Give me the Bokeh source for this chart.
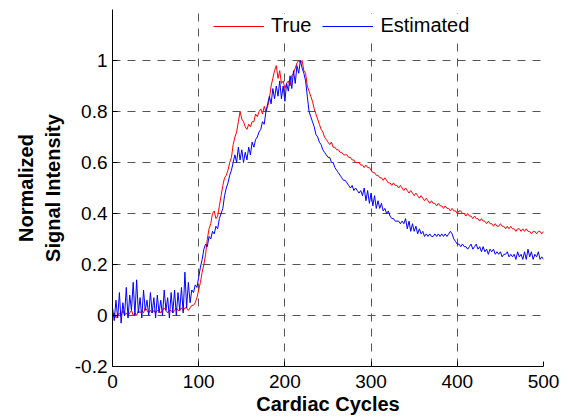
from bokeh.plotting import figure
from bokeh.models import Range1d, FixedTicker, Legend, LegendItem
from bokeh.embed import file_html
from bokeh.resources import INLINE

# Cardiac cycle index (every 2nd cycle)
cycles = list(range(0, 501, 2))

true_signal = [
    0.00, 0.01, -0.01, 0.00, 0.01, 0.00, 0.02, 0.00, 0.01, 0.00,
    0.01, 0.02, 0.00, 0.01, 0.00, 0.02, 0.01, 0.02, 0.01, 0.03,
    0.02, 0.01, 0.02, 0.01, 0.02, 0.01, 0.02, 0.02, 0.01, 0.02,
    0.03, 0.02, 0.01, 0.02, 0.02, 0.01, 0.02, 0.03, 0.02, 0.02,
    0.03, 0.02, 0.03, 0.03, 0.02, 0.03, 0.04, 0.04, 0.05, 0.07,
    0.10, 0.13, 0.17, 0.20, 0.24, 0.30, 0.34, 0.36, 0.40, 0.41,
    0.38, 0.39, 0.43, 0.47, 0.51, 0.54, 0.55, 0.57, 0.60, 0.62,
    0.67, 0.70, 0.72, 0.76, 0.80, 0.77, 0.76, 0.74, 0.73, 0.75,
    0.74, 0.76, 0.76, 0.79, 0.78, 0.80, 0.81, 0.79, 0.82, 0.80,
    0.82, 0.85, 0.90, 0.93, 0.96, 0.98, 0.93, 0.96, 0.91, 0.92,
    0.89, 0.91, 0.92, 0.90, 0.94, 0.95, 0.97, 0.99, 1.00, 0.99,
    1.00, 0.96, 0.95, 0.90, 0.88, 0.86, 0.84, 0.81, 0.79, 0.77,
    0.75, 0.73, 0.72, 0.70, 0.69, 0.68, 0.67, 0.68, 0.66, 0.66,
    0.65, 0.65, 0.64, 0.64, 0.63, 0.63, 0.63, 0.62, 0.62, 0.61,
    0.61, 0.60, 0.60, 0.60, 0.59, 0.59, 0.58, 0.59, 0.58, 0.58,
    0.57, 0.56, 0.56, 0.55, 0.55, 0.54, 0.54, 0.53, 0.54, 0.53,
    0.52, 0.52, 0.51, 0.52, 0.51, 0.51, 0.50, 0.51, 0.50, 0.49,
    0.50, 0.49, 0.48, 0.49, 0.48, 0.47, 0.48, 0.47, 0.46, 0.47,
    0.46, 0.45, 0.46, 0.45, 0.44, 0.45, 0.44, 0.44, 0.43, 0.44,
    0.43, 0.43, 0.42, 0.43, 0.42, 0.42, 0.41, 0.42, 0.41, 0.41,
    0.40, 0.41, 0.41, 0.40, 0.40, 0.39, 0.40, 0.39, 0.39, 0.38,
    0.39, 0.38, 0.38, 0.37, 0.38, 0.37, 0.37, 0.36, 0.37, 0.36,
    0.36, 0.35, 0.36, 0.35, 0.35, 0.36, 0.35, 0.35, 0.34, 0.35,
    0.34, 0.35, 0.34, 0.34, 0.33, 0.34, 0.34, 0.33, 0.34, 0.33,
    0.34, 0.33, 0.33, 0.32, 0.33, 0.33, 0.32, 0.33, 0.33, 0.32,
    0.33,
]

estimated_signal = [
    0.03, -0.02, 0.06, -0.01, 0.09, -0.03, 0.05, 0.00, 0.11, -0.01,
    0.08, 0.02, 0.13, 0.00, 0.14, 0.01, 0.07, -0.01, 0.10, 0.02,
    0.06, 0.00, 0.09, 0.01, 0.07, -0.01, 0.08, 0.01, 0.06, 0.00,
    0.10, 0.02, 0.07, -0.01, 0.09, 0.01, 0.10, 0.00, 0.09, 0.02,
    0.11, 0.01, 0.17, 0.03, 0.13, 0.05, 0.10, 0.09, 0.12, 0.11,
    0.15, 0.19, 0.22, 0.26, 0.28, 0.27, 0.31, 0.30, 0.33, 0.32,
    0.35, 0.34, 0.38, 0.40, 0.42, 0.47, 0.50, 0.52, 0.55, 0.57,
    0.60, 0.63, 0.60, 0.66, 0.61, 0.65, 0.60, 0.64, 0.61, 0.66,
    0.63, 0.68, 0.66, 0.69, 0.70, 0.72, 0.73, 0.76, 0.75, 0.80,
    0.83, 0.86, 0.83, 0.89, 0.85, 0.90, 0.86, 0.92, 0.85, 0.90,
    0.84, 0.91, 0.88, 0.94, 0.89, 0.96, 0.91, 0.98, 0.95, 1.00,
    0.97, 0.95, 0.92, 0.86, 0.80, 0.78, 0.76, 0.74, 0.71, 0.70,
    0.68, 0.67, 0.65, 0.64, 0.63, 0.62, 0.62, 0.60, 0.60, 0.58,
    0.57, 0.56, 0.55, 0.54, 0.53, 0.53, 0.52, 0.51, 0.50, 0.51,
    0.49, 0.50, 0.49, 0.48, 0.49, 0.47, 0.50, 0.45, 0.49, 0.44,
    0.48, 0.43, 0.47, 0.42, 0.45, 0.42, 0.44, 0.41, 0.42, 0.40,
    0.41, 0.39, 0.38, 0.38, 0.37, 0.37, 0.37, 0.36, 0.37, 0.36,
    0.38, 0.34, 0.37, 0.33, 0.36, 0.33, 0.35, 0.32, 0.34, 0.32,
    0.33, 0.31, 0.32, 0.31, 0.32, 0.31, 0.31, 0.32, 0.31, 0.32,
    0.31, 0.32, 0.31, 0.32, 0.31, 0.32, 0.33, 0.32, 0.30, 0.29,
    0.28, 0.28, 0.27, 0.28, 0.27, 0.27, 0.26, 0.27, 0.28, 0.26,
    0.27, 0.28, 0.26, 0.27, 0.25, 0.27, 0.25, 0.26, 0.24, 0.26,
    0.25, 0.26, 0.24, 0.25, 0.24, 0.25, 0.23, 0.24, 0.24, 0.25,
    0.23, 0.24, 0.23, 0.24, 0.22, 0.25, 0.23, 0.24, 0.22, 0.25,
    0.22, 0.26, 0.23, 0.25, 0.22, 0.24, 0.23, 0.25, 0.22, 0.23,
    0.22,
]

x_ticks = [0, 100, 200, 300, 400, 500]
y_ticks = [-0.2, 0.0, 0.2, 0.4, 0.6, 0.8, 1.0]
y_tick_labels = ["-0.2", "0", "0.2", "0.4", "0.6", "0.8", "1"]
series_names = ["True", "Estimated"]

assert len(true_signal) == len(cycles) == len(estimated_signal)

FONT = "Liberation Sans"

p = figure(
    frame_width=431, frame_height=357,
    x_range=Range1d(0, 500), y_range=Range1d(-0.2, 1.2),
    output_backend="svg", toolbar_location=None,
    min_border_left=112, min_border_right=25,
    min_border_top=9, min_border_bottom=47,
    background_fill_color="white", border_fill_color="white",
)
p.outline_line_color = None

# grid
p.xgrid.ticker = FixedTicker(ticks=x_ticks)
p.ygrid.ticker = FixedTicker(ticks=y_ticks)
for g in (p.xgrid, p.ygrid):
    g.grid_line_color = "#555555"
    g.grid_line_dash = "8 7"
    g.grid_line_width = 1

# axes
for ax in (p.xaxis, p.yaxis):
    ax.axis_line_color = "black"
    ax.axis_line_width = 1
    ax.major_tick_in = 5
    ax.major_tick_out = 0
    ax.minor_tick_line_color = None
    ax.major_tick_line_color = "black"
    ax.major_label_text_font = FONT
    ax.major_label_text_font_size = "19px"
    ax.major_label_text_color = "black"
    ax.axis_label_text_font = FONT
    ax.axis_label_text_font_size = "20px"
    ax.axis_label_text_font_style = "bold"
    ax.axis_label_text_color = "black"

p.xaxis.ticker = FixedTicker(ticks=x_ticks)
p.yaxis.ticker = FixedTicker(ticks=y_ticks)
p.yaxis.major_label_overrides = {t: s for t, s in zip(y_ticks, y_tick_labels)}
p.xaxis.major_label_standoff = 8
p.yaxis.major_label_standoff = 5
p.xaxis.axis_label = "Cardiac Cycles"
p.xaxis.axis_label_standoff = 2
p.yaxis.axis_label = "Normalized\nSignal Intensity"
p.yaxis.axis_label_standoff = 8

r_true = p.line(cycles, true_signal, line_color="#ff0000", line_width=1)
r_est = p.line(cycles, estimated_signal, line_color="#0000ff", line_width=1)

legend = Legend(
    items=[LegendItem(label=series_names[0], renderers=[r_true]),
           LegendItem(label=series_names[1], renderers=[r_est])],
    orientation="horizontal",
    location=(101, 329),
    glyph_width=51, glyph_height=16,
    label_standoff=7, spacing=11, padding=3, margin=0,
    label_text_font=FONT, label_text_font_size="20px",
    label_text_color="black",
    background_fill_color="white", background_fill_alpha=1.0,
    border_line_color=None,
)
p.add_layout(legend)

open("out.html", "w").write(file_html(p, INLINE))
